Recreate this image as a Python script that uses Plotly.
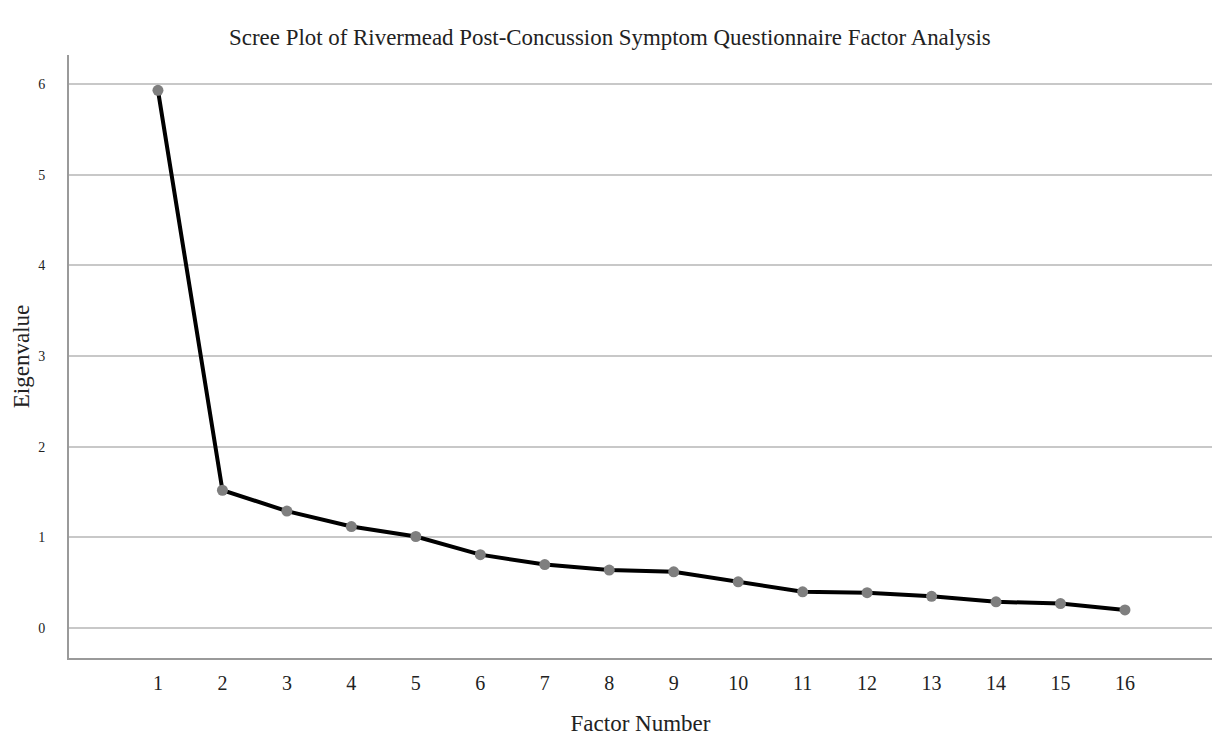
import plotly.graph_objects as go

factors = list(range(1, 17))
eigenvalues = [5.93, 1.52, 1.29, 1.12, 1.01, 0.81, 0.70, 0.64, 0.62, 0.51, 0.40, 0.39, 0.35, 0.29, 0.27, 0.20]
y_ticks = [0, 1, 2, 3, 4, 5, 6]

FONT = "Liberation Serif, Times New Roman, serif"

fig = go.Figure()
fig.add_trace(go.Scatter(
    x=factors, y=eigenvalues, mode="lines+markers",
    line=dict(color="#000000", width=4),
    marker=dict(color="#7f7f7f", size=11),
    showlegend=False,
))

fig.update_layout(
    width=1221, height=744,
    margin=dict(l=61, r=17, t=47, b=94),
    paper_bgcolor="white", plot_bgcolor="white",
    font=dict(family=FONT, color="#222222"),
    title=dict(text="Scree Plot of Rivermead Post-Concussion Symptom Questionnaire Factor Analysis",
               x=0.493, xanchor="center", y=0.961, yanchor="middle",
               font=dict(family=FONT, size=22.9, color="#222222")),
    xaxis=dict(
        range=[-0.38, 17.35], tickmode="array", tickvals=factors,
        ticktext=[str(f) for f in factors],
        showgrid=False, zeroline=False, automargin=False,
        showline=True, linecolor="#9a9a9a", linewidth=2,
        ticks="", ticklabelstandoff=6,
        tickfont=dict(family=FONT, size=20, color="#222222"),
        title=dict(text="Factor Number", standoff=22, font=dict(family=FONT, size=23, color="#222222")),
    ),
    yaxis=dict(
        range=[-0.33, 6.32], tickmode="array", tickvals=y_ticks,
        showgrid=True, gridcolor="#c8c8c8", gridwidth=1.5, zeroline=False, automargin=False,
        showline=True, linecolor="#9a9a9a", linewidth=2,
        ticks="", ticklabelstandoff=19,
        tickfont=dict(family=FONT, size=14, color="#222222"),
        title=dict(text="Eigenvalue", standoff=2, font=dict(family=FONT, size=23, color="#222222")),
    ),
)

fig.write_html("out.html")
